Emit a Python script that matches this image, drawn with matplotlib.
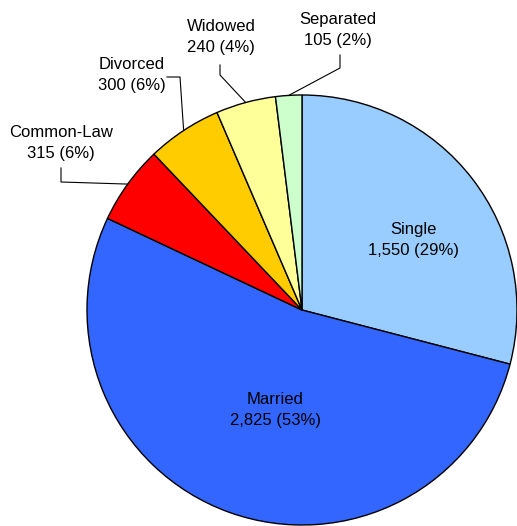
import matplotlib.pyplot as plt
import numpy as np

plt.rcParams['font.family'] = ['Liberation Sans', 'DejaVu Sans']

# Marital status counts
categories = ['Single', 'Married', 'Common-Law', 'Divorced', 'Widowed', 'Separated']
counts = [1550, 2825, 315, 300, 240, 105]
colors = ['#99CCFF', '#3366FF', '#FF0000', '#FFCC00', '#FFFF99', '#CCFFCC']

# label placement (pixel positions in the 517x526 image)
CX, CY, R = 302, 310, 215
def px(x, y):
    return (x - CX) / R, (CY - y) / R

inside_pos = {'Single': (413, 240), 'Married': (275, 410)}
outside_pos = {
    'Common-Law': ((61, 143), [(61, 168), (61, 182)]),
    'Divorced': ((132, 75), [(167, 77), (180, 77)]),
    'Widowed': ((221, 37), [(220, 65), (220, 75)]),
    'Separated': ((338, 30), [(340, 55), (340, 68)]),
}

fig = plt.figure(figsize=(5.17, 5.26), dpi=100)
ax = fig.add_axes([0, 0, 1, 1])
wedges, _ = ax.pie(counts, colors=colors, startangle=90, counterclock=False,
                   radius=1, wedgeprops=dict(edgecolor='black', linewidth=1))

total = sum(counts)
for w, name, n in zip(wedges, categories, counts):
    txt = f'{name}\n{n:,} ({n / total * 100:.0f}%)'
    if name in inside_pos:
        x, y = px(*inside_pos[name])
        ax.text(x, y, txt, ha='center', va='center', fontsize=12, linespacing=1.45)
    else:
        (tx, ty), elbow = outside_pos[name]
        x, y = px(tx, ty)
        ax.text(x, y, txt, ha='center', va='center', fontsize=12, linespacing=1.45)
        mid = np.deg2rad((w.theta1 + w.theta2) / 2)
        pts = [px(*p) for p in elbow] + [(np.cos(mid), np.sin(mid))]
        xs, ys = zip(*pts)
        ax.plot(xs, ys, color='black', linewidth=0.8)

ax.set_aspect('equal')
ax.set_xlim(-CX / R, (517 - CX) / R)
ax.set_ylim(-(526 - CY) / R, CY / R)
ax.axis('off')
fig.savefig('out.png', dpi=100)
